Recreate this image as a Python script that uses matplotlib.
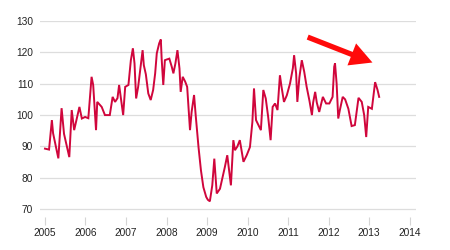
import matplotlib
matplotlib.use("Agg")
import matplotlib.pyplot as plt

# Fechas (año decimal) y valores del índice
anios = [2005.00, 2005.10, 2005.17, 2005.20, 2005.33, 2005.41, 2005.47, 2005.60,
         2005.66, 2005.72, 2005.85, 2005.91, 2005.99, 2006.07, 2006.15, 2006.19,
         2006.26, 2006.29, 2006.40, 2006.48, 2006.60, 2006.67, 2006.73, 2006.79,
         2006.83, 2006.88, 2006.93, 2006.98, 2007.06, 2007.12, 2007.17, 2007.21,
         2007.25, 2007.30, 2007.36, 2007.41, 2007.44, 2007.49, 2007.55, 2007.61,
         2007.67, 2007.72, 2007.76, 2007.82, 2007.86, 2007.88, 2007.92, 2007.96,
         2008.00, 2008.07, 2008.13, 2008.17, 2008.22, 2008.27, 2008.32, 2008.35,
         2008.40, 2008.46, 2008.51, 2008.58, 2008.62, 2008.68, 2008.72, 2008.79,
         2008.85, 2008.91, 2008.98, 2009.02, 2009.07, 2009.13, 2009.18, 2009.24,
         2009.32, 2009.44, 2009.50, 2009.59, 2009.65, 2009.69, 2009.75, 2009.81,
         2009.90, 2009.98, 2010.06, 2010.12, 2010.16, 2010.21, 2010.27, 2010.33,
         2010.39, 2010.45, 2010.51, 2010.57, 2010.62, 2010.68, 2010.74, 2010.80,
         2010.84, 2010.90, 2010.97, 2011.05, 2011.12, 2011.15, 2011.20, 2011.23,
         2011.28, 2011.34, 2011.40, 2011.46, 2011.53, 2011.59, 2011.62, 2011.67,
         2011.71, 2011.77, 2011.86, 2011.94, 2012.02, 2012.10, 2012.14, 2012.16,
         2012.20, 2012.24, 2012.28, 2012.35, 2012.41, 2012.49, 2012.57, 2012.65,
         2012.74, 2012.82, 2012.88, 2012.93, 2012.98, 2013.07, 2013.15, 2013.21,
         2013.25]

indice = [89.3, 89.0, 98.4, 94.2, 86.2, 102.2, 94.0, 86.6,
          101.6, 95.2, 102.6, 98.9, 99.4, 99.0, 112.2, 109.6,
          95.2, 104.2, 102.6, 100.0, 100.0, 105.8, 104.2, 105.4,
          109.6, 104.7, 100.0, 109.0, 109.6, 117.5, 121.3, 116.5,
          105.3, 109.0, 115.4, 120.7, 115.9, 113.0, 106.9, 104.8,
          108.0, 113.3, 119.7, 122.9, 124.1, 118.0, 109.6, 117.5,
          117.7, 118.0, 115.4, 113.3, 116.5, 120.7, 114.9, 107.4,
          112.2, 110.7, 109.0, 95.2, 101.0, 106.4, 100.0, 89.8,
          82.4, 77.0, 73.9, 73.0, 72.5, 77.6, 86.1, 75.0,
          76.5, 83.4, 87.2, 77.6, 92.0, 88.8, 90.0, 92.0,
          85.1, 87.2, 89.8, 97.8, 108.5, 98.4, 96.8, 95.2,
          108.0, 105.3, 99.4, 92.0, 102.6, 103.7, 101.6, 112.7,
          109.0, 104.2, 106.3, 110.1, 115.0, 119.1, 113.3, 104.2,
          112.0, 117.5, 113.8, 109.0, 104.5, 100.0, 104.0, 107.4,
          104.0, 101.0, 105.8, 103.7, 103.7, 105.8, 115.4, 116.5,
          110.0, 98.9, 101.6, 105.8, 105.0, 102.0, 96.5, 96.8,
          105.5, 104.2, 100.0, 93.0, 102.6, 102.0, 110.5, 108.0,
          105.8]

ticks_x = [2005, 2006, 2007, 2008, 2009, 2010, 2011, 2012, 2013, 2014]
ticks_y = [70, 80, 90, 100, 110, 120, 130]

plt.rcParams['font.family'] = ['Liberation Sans', 'DejaVu Sans']

fig = plt.figure(figsize=(4.5, 2.5), dpi=100)
ax = fig.add_axes([0.0889, 0.132, 0.8356, 0.784])

# Serie principal
ax.plot(anios, indice, color='#d0063c', lw=1.4, solid_joinstyle='miter')

ax.set_xlim(2004.877, 2014.16)
ax.set_ylim(67.5, 130)
ax.set_xticks(ticks_x)
ax.set_yticks(ticks_y)
ax.set_xticklabels([str(t) for t in ticks_x])

# Rejilla horizontal gris claro
ax.grid(axis='y', color='#dddddd', lw=0.9)
ax.set_axisbelow(True)
for s in ax.spines.values():
    s.set_visible(False)

ax.tick_params(axis='y', length=0, pad=5, labelsize=7.3, labelcolor='#222222')
ax.tick_params(axis='x', length=5.8, width=0.8, color='#d5d5d5', pad=2,
               labelsize=7.3, labelcolor='#222222', direction='out')

# Flecha roja indicando la tendencia
ax.annotate('', xy=(0.891, 0.783), xytext=(0.705, 0.923), xycoords='axes fraction',
            arrowprops=dict(arrowstyle='simple,head_length=1.6,head_width=1.7,tail_width=0.38',
                            color='#ff0a0a', mutation_scale=10, lw=0))

fig.savefig('out.png', dpi=100)
